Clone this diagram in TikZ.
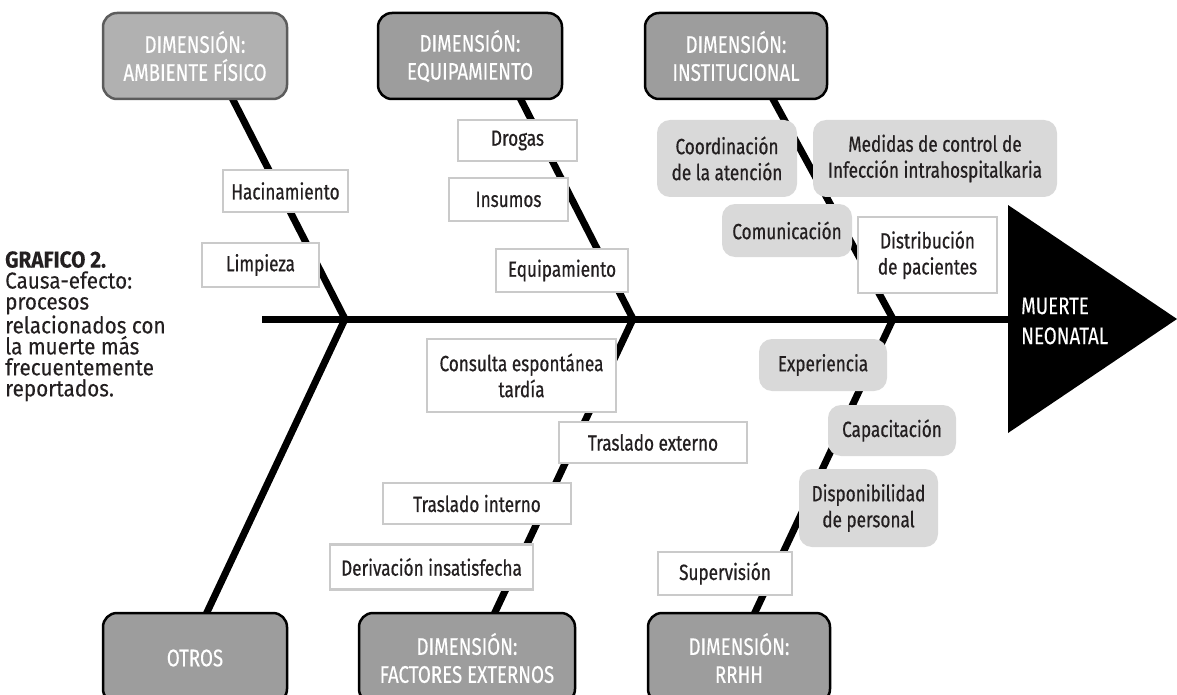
\documentclass[tikz,border=0pt]{standalone}
\usepackage{fontspec}
\setmainfont{Fira Sans}[FakeStretch=0.78, FakeBold=0.6]
\newfontfamily\capfont{Fira Sans}[FakeStretch=0.9, FakeBold=0.2]
\newfontfamily\dimfont{Fira Sans}[FakeStretch=0.78, FakeBold=0.3]
\definecolor{dimfill}{HTML}{9D9D9D}
\definecolor{dimlight}{HTML}{B1B1B1}
\definecolor{dimedge}{HTML}{5C5C5C}
\definecolor{labedge}{HTML}{CACACA}
\definecolor{gfill}{HTML}{D9D9D9}
\definecolor{ink}{HTML}{231F20}
\begin{document}
\begin{tikzpicture}[x=1pt,y=-1pt,
  dimbox/.style={draw=black, line width=2.5pt, fill=dimfill, rounded corners=14pt,
    text=white, align=center, inner sep=0pt, font=\dimfont\fontsize{24}{28}\selectfont},
  labbox/.style={draw=labedge, line width=2.5pt, fill=white, align=center,
    inner sep=0pt, text=ink, font=\fontsize{22}{26}\selectfont},
  gbox/.style={fill=gfill, rounded corners=13pt, align=center,
    inner sep=0pt, text=ink, font=\fontsize{22}{26}\selectfont},
  bone/.style={line width=7pt, line join=miter, draw=black}]
\useasboundingbox (0,0) rectangle (1177,695);
\begin{scope}
\clip (0,0) rectangle (1177,695);
% joints and bone ends
\coordinate (j1) at (345,319);
\coordinate (j2) at (633,319);
\coordinate (j3) at (893,319);
\coordinate (t1) at (228,90);
\coordinate (t2) at (516,90);
\coordinate (t3) at (768,90);
\coordinate (b1) at (201,625);
\coordinate (b2) at (489,625);
\coordinate (b3) at (749,625);
\coordinate (sp0) at (262,319);
\coordinate (sp1) at (1012,319);
% spine and bones
\draw[bone] (sp0) -- (sp1);
\draw[bone] (t1) -- (j1) -- (b1);
\draw[bone] (t2) -- (j2) -- (b2);
\draw[bone] (t3) -- (j3) -- (b3);
% head
\coordinate (h1) at (1008,205);
\coordinate (h2) at (1177,319);
\coordinate (h3) at (1008,433);
\fill[black] (h1) -- (h2) -- (h3) -- cycle;
\node[anchor=west, align=left, text=white, inner sep=0pt,
  font=\dimfont\fontsize{24}{30}\selectfont] (head) at (1021,321) {MUERTE\\NEONATAL};
% dimension boxes
\node[dimbox, fill=dimlight, draw=dimedge, minimum width=184, minimum height=86] (amb) at (195,56) {DIMENSIÓN:\\AMBIENTE FÍSICO};
\node[dimbox, minimum width=184, minimum height=86] (equ) at (470,56) {DIMENSIÓN:\\EQUIPAMIENTO};
\node[dimbox, minimum width=182, minimum height=86] (ins) at (736,56) {DIMENSIÓN:\\INSTITUCIONAL};
\node[dimbox, minimum width=184, minimum height=90] (otr) at (195,658) {OTROS};
\node[dimbox, minimum width=216, minimum height=90] (fac) at (467,658) {DIMENSIÓN:\\FACTORES EXTERNOS};
\node[dimbox, minimum width=182, minimum height=90] (rrh) at (739,658) {DIMENSIÓN:\\RRHH};
% white labels
\node[labbox, minimum width=125, minimum height=42] (hac) at (285.5,191) {Hacinamiento};
\node[labbox, minimum width=117, minimum height=44] (lim) at (260.5,265) {Limpieza};
\node[labbox, minimum width=119, minimum height=41] (dro) at (517.5,140.5) {Drogas};
\node[labbox, minimum width=119, minimum height=43] (insu) at (508.5,199.5) {Insumos};
\node[labbox, minimum width=132, minimum height=43] (eql) at (562,270.5) {Equipamiento};
\node[labbox, minimum width=139, minimum height=76] (dis) at (927.5,255) {Distribución\\de pacientes};
\node[labbox, minimum width=189, minimum height=73] (con) at (521.5,375.5) {Consulta espontánea\\tardía};
\node[labbox, minimum width=188, minimum height=41] (tex) at (653,442.5) {Traslado externo};
\node[labbox, minimum width=188, minimum height=41] (tin) at (477,503.5) {Traslado interno};
\node[labbox, minimum width=203, minimum height=45] (der) at (431.5,567) {Derivación insatisfecha};
\node[labbox, minimum width=134, minimum height=43] (sup) at (725,573.5) {Supervisión};
% grey labels
\node[gbox, minimum width=140, minimum height=77] (coo) at (727,158.5) {Coordinación\\de la atención};
\node[gbox, minimum width=244, minimum height=77] (med) at (935,158.5) {Medidas de control de\\Infección intrahospitalkaria};
\node[gbox, minimum width=130, minimum height=53] (com) at (787,230.5) {Comunicación};
\node[gbox, minimum width=128, minimum height=52] (exp) at (823,365) {Experiencia};
\node[gbox, minimum width=128, minimum height=51] (cap) at (892,430.5) {Capacitación};
\node[gbox, minimum width=139, minimum height=78] (disp) at (868.5,508) {Disponibilidad\\de personal};
% caption
\node[anchor=north west, align=left, inner sep=0pt, text=ink,
  font=\capfont\fontsize{23}{21}\selectfont] (cap0) at (5,251)
  {{\bfseries GRAFICO 2.}\\Causa-efecto:\\procesos\\relacionados con\\la muerte más\\frecuentemente\\reportados.};
\end{scope}
\end{tikzpicture}
\end{document}
